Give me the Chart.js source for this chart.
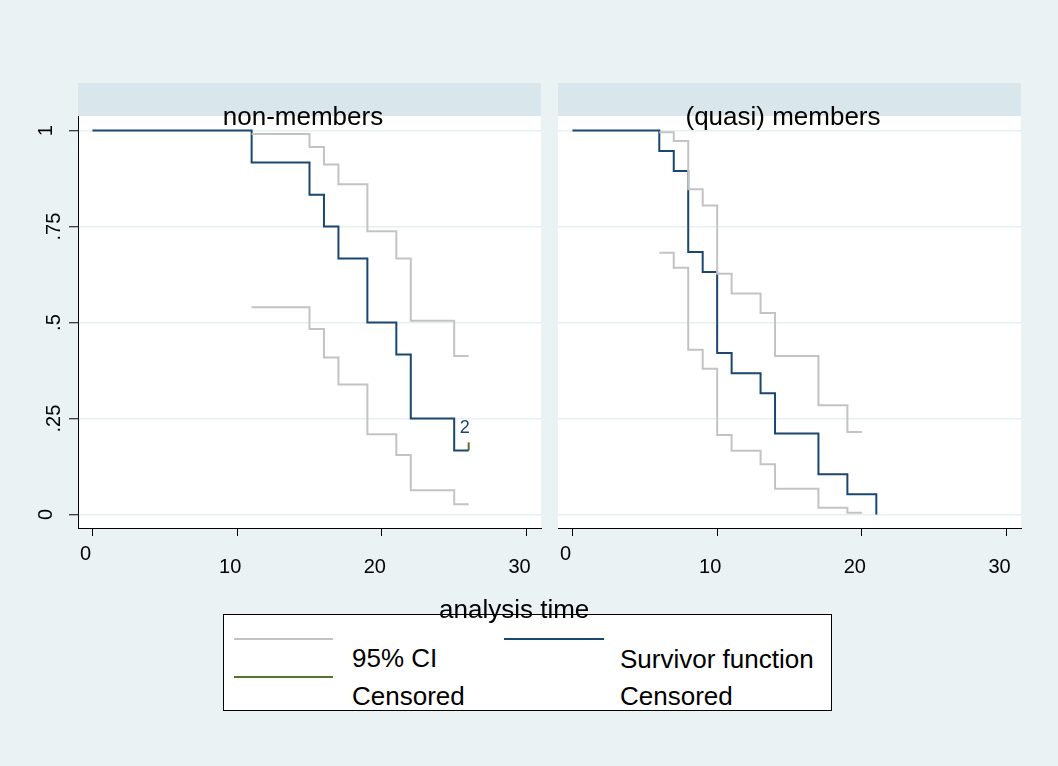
<!DOCTYPE html>
<html><head><meta charset="utf-8">
<script src="https://cdn.jsdelivr.net/npm/chart.js@4/dist/chart.umd.min.js"></script>
<style>
html,body{margin:0;padding:0;background:#eaf2f3;width:1058px;height:766px;overflow:hidden;font-family:'Liberation Sans',Arial,sans-serif;}
canvas{position:absolute;left:0;top:0;}
.t{position:absolute;font-size:26px;line-height:26px;white-space:nowrap;color:#000;}
.ln{position:absolute;height:2px;}
#box{position:absolute;left:223px;top:614px;width:609px;height:97px;box-sizing:border-box;border:1px solid #000;background:#fff;}
</style></head><body>
<canvas id="c1" width="1058" height="600"></canvas>
<canvas id="c2" width="1058" height="600"></canvas>
<div id="box"></div>
<div class="ln" style="left:234px;top:638px;width:99px;background:#c3c3c3"></div>
<div class="ln" style="left:234px;top:676px;width:99px;background:#55752f"></div>
<div class="ln" style="left:504px;top:638px;width:100px;background:#1a476f"></div>
<div class="t" style="left:352px;top:645px">95% CI</div>
<div class="t" style="left:352px;top:683px">Censored</div>
<div class="t" style="left:620px;top:646px">Survivor function</div>
<div class="t" style="left:620px;top:683px">Censored</div>
<div class="t" style="left:439px;top:596px">analysis time</div>
<script>
// ---------- data ----------
const panelTitles = ['non-members', '(quasi) members'];
const xTicks = [0, 10, 20, 30];
const yTicks = [0, 0.25, 0.5, 0.75, 1];
const yTickLabels = ['0', '.25', '.5', '.75', '1'];

// non-members
const nmTime  = [0, 11, 15, 16, 17, 19, 21, 22, 25, 26];
const nmSurv  = [1, 0.917, 0.833, 0.75, 0.667, 0.5, 0.417, 0.25, 0.167, 0.167];
const nmCiTime = [11, 15, 16, 17, 19, 21, 22, 25, 26];
const nmUpper = [0.991, 0.957, 0.912, 0.860, 0.738, 0.667, 0.505, 0.413, 0.413];
const nmLower = [0.540, 0.483, 0.409, 0.339, 0.209, 0.155, 0.063, 0.027, 0.027];
const nmCensTime = [26];
const nmCensSurv = [0.167];
const nmCensCount = [2];

// (quasi) members
const mTime  = [0, 6, 7, 8, 9, 10, 11, 13, 14, 17, 19, 21];
const mSurv  = [1, 0.947, 0.895, 0.684, 0.632, 0.421, 0.368, 0.316, 0.211, 0.105, 0.053, 0];
const mCiTime = [6, 7, 8, 9, 10, 11, 13, 14, 17, 19, 20];
const mUpper = [0.996, 0.973, 0.847, 0.805, 0.627, 0.576, 0.525, 0.413, 0.285, 0.215, 0.215];
const mLower = [0.682, 0.643, 0.429, 0.380, 0.207, 0.166, 0.131, 0.067, 0.018, 0.005, 0.005];
const mCensTime = [];
const mCensSurv = [];
const mCensCount = [];

// ---------- styles ----------
const FONT = "'Liberation Sans', Arial, sans-serif";
const NAVY = '#1a476f', GREY = '#c3c3c3', GREEN = '#55752f';
const CENSOR_TICK = 0.021;
Chart.defaults.font.family = FONT;
Chart.defaults.color = '#000';

const pts = (xs, ys) => xs.map((x, i) => ({x: x, y: ys[i]}));

function panelPlugin(title, cTime, cSurv, cCount) {
  return {
    id: 'panel',
    beforeDraw(chart) {
      const ctx = chart.ctx, ca = chart.chartArea;
      ctx.save();
      ctx.fillStyle = '#d9e6eb';
      ctx.fillRect(ca.left, 83, ca.right - ca.left, ca.top - 83);
      ctx.fillStyle = '#ffffff';
      ctx.fillRect(ca.left, ca.top, ca.right - ca.left, ca.bottom - ca.top);
      ctx.restore();
    },
    afterDatasetsDraw(chart) {
      const ctx = chart.ctx, ca = chart.chartArea;
      ctx.save();
      ctx.fillStyle = '#000';
      ctx.font = '26px ' + FONT;
      ctx.textAlign = 'center';
      ctx.textBaseline = 'alphabetic';
      ctx.fillText(title, (ca.left + ca.right) / 2 - 6.5, 124.5);
      ctx.fillStyle = NAVY;
      ctx.font = '18px ' + FONT;
      ctx.textBaseline = 'middle';
      const xs = chart.scales.x, ys = chart.scales.y;
      cTime.forEach((t, i) => {
        if (cCount[i] > 1) {
          ctx.fillText(String(cCount[i]), xs.getPixelForValue(t) - 4, ys.getPixelForValue(cSurv[i]) - 22);
        }
      });
      ctx.restore();
    }
  };
}

function makeChart(id, isLeft, title, time, surv, ciTime, upper, lower, cTime, cSurv, cCount) {
  const lineDs = (data, color) => ({
    data: data, borderColor: color, borderWidth: 2, pointRadius: 0, stepped: true,
    fill: false, borderJoinStyle: 'miter', borderCapStyle: 'butt'
  });
  const datasets = [
    lineDs(pts(ciTime, upper), GREY),
    lineDs(pts(ciTime, lower), GREY),
    lineDs(pts(time, surv), NAVY)
  ];
  cTime.forEach((t, i) => {
    datasets.push({
      data: [{x: t, y: cSurv[i]}, {x: t, y: cSurv[i] + CENSOR_TICK}],
      borderColor: GREEN, borderWidth: 2, pointRadius: 0, fill: false, borderCapStyle: 'butt'
    });
  });
  return new Chart(document.getElementById(id), {
    type: 'line',
    data: {datasets: datasets},
    plugins: [panelPlugin(title, cTime, cSurv, cCount)],
    options: {
      responsive: false, animation: false, devicePixelRatio: 1,
      layout: {padding: isLeft ? {left: 0, right: 517, top: 116, bottom: 0}
                               : {left: 558, right: 37, top: 116, bottom: 0}},
      plugins: {legend: {display: false}, tooltip: {enabled: false}},
      scales: {
        x: {
          type: 'linear', min: -1, max: 31,
          afterBuildTicks: s => { s.ticks = xTicks.map(v => ({value: v})); },
          afterFit: s => { s.height = 72; },
          grid: {drawOnChartArea: false, drawTicks: true, tickLength: 8, tickColor: '#000', tickWidth: 1},
          border: {display: true, color: '#000', width: 1},
          ticks: {
            font: {size: 20, lineHeight: 0.635}, color: '#000', padding: 12.5, labelOffset: -7,
            minRotation: 0, maxRotation: 0, autoSkip: false,
            callback: (v, i) => i === 0 ? [String(v)] : ['', String(v)]
          }
        },
        y: {
          type: 'linear', min: -0.035, max: 1.038,
          afterBuildTicks: s => { s.ticks = yTicks.map(v => ({value: v})); },
          afterFit: s => { s.width = isLeft ? 78 : 0; },
          grid: {color: '#e6eff1', lineWidth: 1.5, drawTicks: isLeft, tickLength: 9, tickColor: '#000', tickWidth: 1},
          border: {display: isLeft, color: '#000', width: 1},
          ticks: {
            display: isLeft,
            font: {size: 20, lineHeight: 0.8}, color: '#000', padding: 9,
            minRotation: 90, maxRotation: 90, crossAlign: 'center', autoSkip: false,
            callback: (v) => {
              const lbl = yTickLabels[yTicks.indexOf(v)];
              return lbl.length > 1 ? ['', lbl] : [lbl];
            }
          }
        }
      }
    }
  });
}

makeChart('c1', true, panelTitles[0], nmTime, nmSurv, nmCiTime, nmUpper, nmLower, nmCensTime, nmCensSurv, nmCensCount);
makeChart('c2', false, panelTitles[1], mTime, mSurv, mCiTime, mUpper, mLower, mCensTime, mCensSurv, mCensCount);
</script>
</body></html>
